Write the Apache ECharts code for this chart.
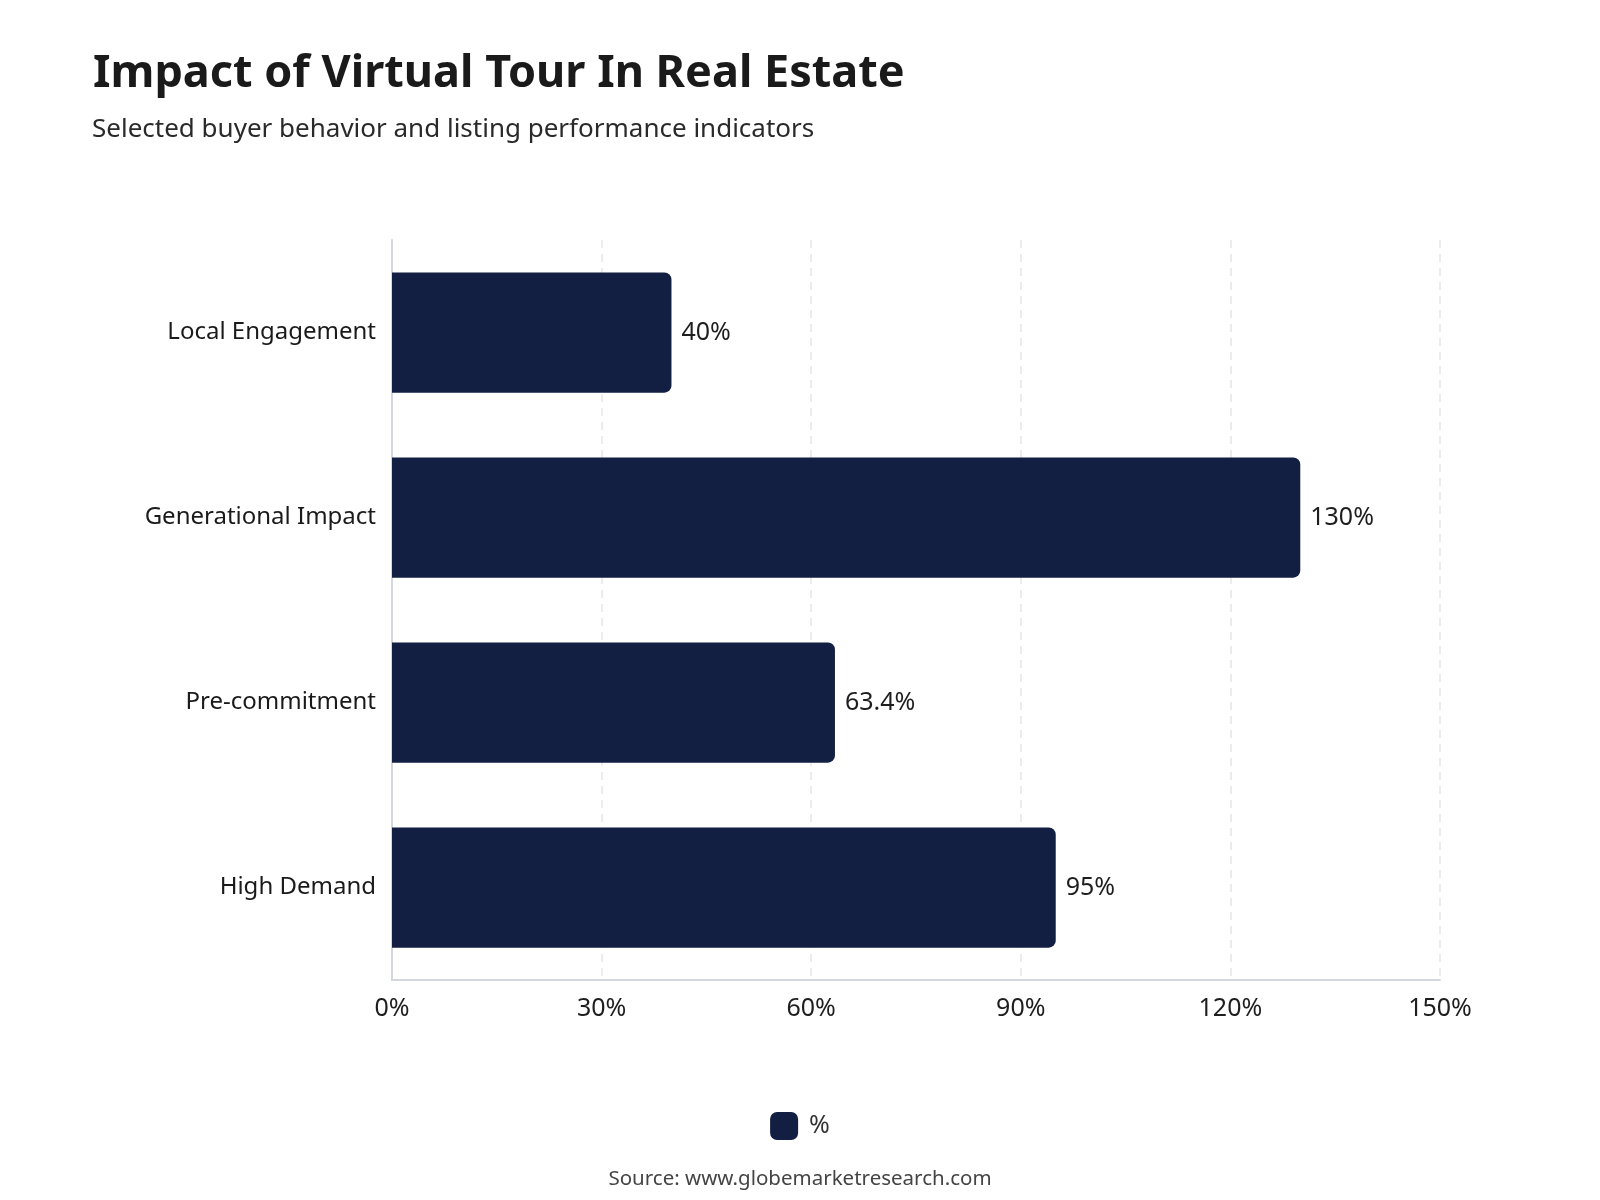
<!DOCTYPE html>
<html>
<head>
<meta charset="utf-8">
<script src="https://cdn.jsdelivr.net/npm/echarts@6/dist/echarts.min.js"></script>
<style>
  html, body { margin: 0; padding: 0; background: #fff; }
  #chart { width: 1600px; height: 1200px; }
</style>
</head>
<body>
<div id="chart"></div>
<script>
// data
var categories = ['Local Engagement', 'Generational Impact', 'Pre-commitment', 'High Demand'];
var values = [40, 130, 63.4, 95];
var seriesName = '%';

var FONT = '"Noto Sans", "Open Sans", sans-serif';
var BAR = '#131f42';

var myChart = echarts.init(document.getElementById('chart'));

var option = {
	backgroundColor: '#fff',
	textStyle: { fontFamily: FONT },
	title: [{
		text: 'Impact of Virtual Tour In Real Estate',
		left: 88,
		top: 47,
		textStyle: { fontFamily: FONT, fontSize: 45, fontWeight: 'bold', color: '#1a1a1a' }
	}, {
		text: 'Selected buyer behavior and listing performance indicators',
		left: 87,
		top: 112,
		textStyle: { fontFamily: FONT, fontSize: 26, fontWeight: 'normal', color: '#2a2a2a' }
	}, {
		text: 'Source: www.globemarketresearch.com',
		left: 'center',
		top: 1164,
		textStyle: { fontFamily: FONT, fontSize: 20.5, fontWeight: 'normal', color: '#444' }
	}],
	legend: {
		data: [seriesName],
		bottom: 55,
		left: 'center',
		itemWidth: 28,
		itemHeight: 28,
		icon: 'roundRect',
		textStyle: { fontFamily: FONT, fontSize: 25, color: '#333', padding: [0, 0, 0, 6] }
	},
	grid: {
		left: 392,
		right: 160,
		top: 240,
		bottom: 220,
		containLabel: false
	},
	xAxis: {
		type: 'value',
		min: 0,
		max: 150,
		interval: 30,
		axisLine: { show: true, lineStyle: { color: '#d5d7de', width: 2 } },
		axisTick: { show: false },
		splitLine: { show: true, lineStyle: { color: '#e6e6e6', type: [8, 6], width: 1.5 } },
		axisLabel: {
			formatter: '{value}%',
			margin: 16,
			fontFamily: FONT,
			fontSize: 25,
			color: '#1e1e1e'
		}
	},
	yAxis: {
		type: 'category',
		data: categories,
		inverse: true,
		axisLine: { show: true, lineStyle: { color: '#d5d7de', width: 2 } },
		axisTick: { show: false },
		axisLabel: {
			margin: 16,
			fontFamily: FONT,
			fontSize: 24,
			color: '#1a1a1a'
		}
	},
	series: [{
		name: seriesName,
		type: 'bar',
		data: values,
		barCategoryGap: '35%',
		itemStyle: { color: BAR, borderRadius: [0, 7, 7, 0] },
		label: {
			show: true,
			position: 'right',
			distance: 10,
			formatter: '{c}%',
			fontFamily: FONT,
			fontSize: 25,
			color: '#1e1e1e'
		}
	}]
};

myChart.setOption(option);
</script>
</body>
</html>
